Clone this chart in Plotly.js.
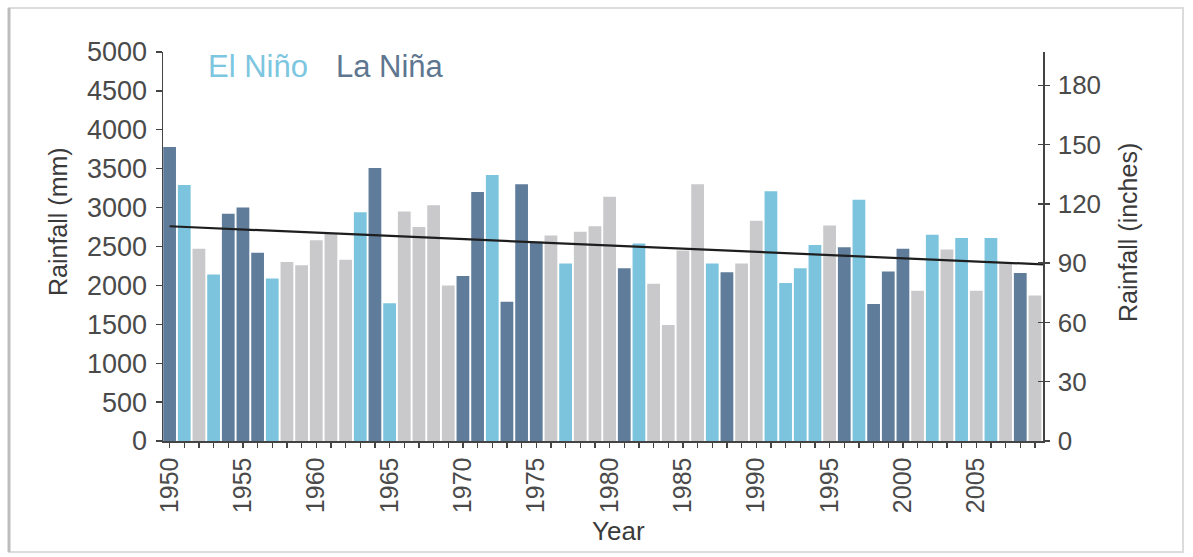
<!DOCTYPE html>
<html>
<head>
<meta charset="utf-8">
<script src="https://cdn.plot.ly/plotly-3.0.1.min.js"></script>
<style>
  html, body { margin: 0; padding: 0; background: #ffffff; }
  #chart { width: 1193px; height: 557px; }
</style>
</head>
<body>
<div id="chart"></div>
<script>
// ---- Data ----
const years = [
  1950,1951,1952,1953,1954,1955,1956,1957,1958,1959,
  1960,1961,1962,1963,1964,1965,1966,1967,1968,1969,
  1970,1971,1972,1973,1974,1975,1976,1977,1978,1979,
  1980,1981,1982,1983,1984,1985,1986,1987,1988,1989,
  1990,1991,1992,1993,1994,1995,1996,1997,1998,1999,
  2000,2001,2002,2003,2004,2005,2006,2007,2008,2009
];
const rainfallMm = [
  3780,3290,2470,2140,2920,3000,2420,2090,2300,2260,
  2580,2660,2330,2940,3510,1770,2950,2750,3030,2000,
  2120,3200,3420,1790,3300,2560,2640,2280,2690,2760,
  3140,2220,2540,2020,1490,2450,3300,2280,2170,2280,
  2830,3210,2030,2220,2520,2770,2490,3100,1760,2180,
  2470,1930,2650,2460,2610,1930,2610,2280,2160,1870
];
// E = El Niño, L = La Niña, N = neutral
const phase = [
  'L','E','N','E','L','L','L','E','N','N',
  'N','N','N','E','L','E','N','N','N','N',
  'L','L','E','L','L','L','N','E','N','N',
  'N','L','E','N','N','N','N','E','L','N',
  'N','E','E','E','E','N','L','E','L','L',
  'L','N','E','N','E','N','E','N','L','N'
];
const xTickVals = [1950,1955,1960,1965,1970,1975,1980,1985,1990,1995,2000,2005];
const yTickValsMm = [0,500,1000,1500,2000,2500,3000,3500,4000,4500,5000];
const yTickValsIn = [0,30,60,90,120,150,180];
const trendX = [1950, 2009.55];
const trendY = [2760, 2270];

// ---- Styles ----
const phaseColors = { E: '#7cc4de', L: '#5f7d9b', N: '#c9c9cc' };
const barColors = phase.map(p => phaseColors[p]);
const FONT = '"Liberation Sans", Arial, Helvetica, sans-serif';
const TXT = '#4a4a4a';
const mmPerInch = 25.4;
const yMax = 5000;

const L = 163, R = 1043, T = 52, B = 441, W = 1193, H = 557;
const px = x => (x - L) / (R - L);
const py = y => (B - y) / (B - T);

const traces = [
  {
    type: 'bar',
    x: years,
    y: rainfallMm,
    marker: { color: barColors, line: { width: 0 } },
    hoverinfo: 'x+y',
    showlegend: false
  },
  {
    type: 'scatter',
    mode: 'lines',
    x: trendX,
    y: trendY,
    line: { color: '#1e1e1e', width: 2.2 },
    hoverinfo: 'skip',
    showlegend: false,
    cliponaxis: false
  },
  {
    type: 'scatter', mode: 'markers', x: [years[0]], y: [0], yaxis: 'y2',
    marker: { opacity: 0 }, hoverinfo: 'skip', showlegend: false
  },
  {
    type: 'scatter', mode: 'markers', x: [years[0]], y: [0], yaxis: 'y3',
    marker: { opacity: 0 }, hoverinfo: 'skip', showlegend: false
  }
];

const layout = {
  width: W,
  height: H,
  margin: { l: L, r: W - R, t: T, b: H - B, pad: 0 },
  paper_bgcolor: '#ffffff',
  plot_bgcolor: '#ffffff',
  font: { family: FONT, color: TXT, size: 26 },
  bargap: 0.13,
  showlegend: false,
  xaxis: {
    range: [1949.55, 2009.55],
    tickmode: 'array',
    tickvals: xTickVals,
    ticktext: xTickVals.map(String),
    tickangle: -90,
    ticks: 'outside',
    ticklen: 5,
    tickwidth: 1.3,
    tickcolor: '#444',
    tickfont: { size: 25, color: TXT, family: FONT },
    minor: { dtick: 1, tick0: 1950, ticks: 'outside', ticklen: 5, tickwidth: 1.3, tickcolor: '#444', showgrid: false },
    showline: true,
    linecolor: '#444',
    linewidth: 1.5,
    showgrid: false,
    zeroline: false,
    fixedrange: true
  },
  yaxis: {
    range: [0, yMax],
    tickmode: 'array',
    tickvals: yTickValsMm,
    ticktext: yTickValsMm.map(String),
    ticks: 'outside',
    ticklen: 6,
    tickwidth: 1.3,
    tickcolor: '#444',
    ticklabelstandoff: 3,
    tickfont: { size: 27, color: TXT, family: FONT },
    showline: true,
    linecolor: '#444',
    linewidth: 1.5,
    showgrid: false,
    zeroline: false,
    fixedrange: true
  },
  yaxis2: {
    overlaying: 'y',
    side: 'right',
    range: [0, yMax / mmPerInch],
    tickmode: 'array',
    tickvals: yTickValsIn,
    ticktext: yTickValsIn.map(String),
    ticks: 'outside',
    ticklen: 5,
    tickwidth: 1.3,
    tickcolor: '#444',
    ticklabelstandoff: 3,
    tickfont: { size: 26, color: TXT, family: FONT },
    showline: true,
    linecolor: '#444',
    linewidth: 1.5,
    showgrid: false,
    zeroline: false,
    fixedrange: true
  },
  yaxis3: {
    overlaying: 'y',
    side: 'right',
    range: [0, yMax / mmPerInch],
    tickmode: 'array',
    tickvals: yTickValsIn,
    ticks: 'inside',
    ticklen: 5,
    tickwidth: 1.3,
    tickcolor: '#444',
    showticklabels: false,
    showline: false,
    showgrid: false,
    zeroline: false,
    fixedrange: true
  },
  annotations: [
    {
      text: 'El Niño', xref: 'paper', yref: 'paper',
      x: px(206), y: py(66), xanchor: 'left', yanchor: 'middle',
      showarrow: false, font: { size: 31, color: '#7cc6df', family: FONT }
    },
    {
      text: 'La Niña', xref: 'paper', yref: 'paper',
      x: px(334), y: py(66), xanchor: 'left', yanchor: 'middle',
      showarrow: false, font: { size: 31, color: '#5e7690', family: FONT }
    },
    {
      text: 'Rainfall (mm)', xref: 'paper', yref: 'paper',
      x: px(58), y: py(222), xanchor: 'center', yanchor: 'middle', textangle: -90,
      showarrow: false, font: { size: 25, color: '#3a3a3a', family: FONT }
    },
    {
      text: 'Rainfall (inches)', xref: 'paper', yref: 'paper',
      x: px(1128), y: py(233), xanchor: 'center', yanchor: 'middle', textangle: -90,
      showarrow: false, font: { size: 25, color: '#3a3a3a', family: FONT }
    },
    {
      text: 'Year', xref: 'paper', yref: 'paper',
      x: px(618), y: py(531), xanchor: 'center', yanchor: 'middle',
      showarrow: false, font: { size: 26, color: '#3a3a3a', family: FONT }
    }
  ],
  shapes: [
    {
      type: 'rect', xref: 'paper', yref: 'paper', layer: 'below',
      x0: px(9), x1: px(1183), y0: py(552), y1: py(8),
      line: { color: '#dcdcdc', width: 2 }, fillcolor: 'rgba(0,0,0,0)'
    },
    {
      type: 'line', xref: 'paper', yref: 'paper', layer: 'below',
      x0: px(9), x1: px(9), y0: py(552), y1: py(8),
      line: { color: '#bdbdbd', width: 3 }
    }
  ]
};

Plotly.newPlot('chart', traces, layout, { displayModeBar: false, staticPlot: true });
</script>
</body>
</html>
